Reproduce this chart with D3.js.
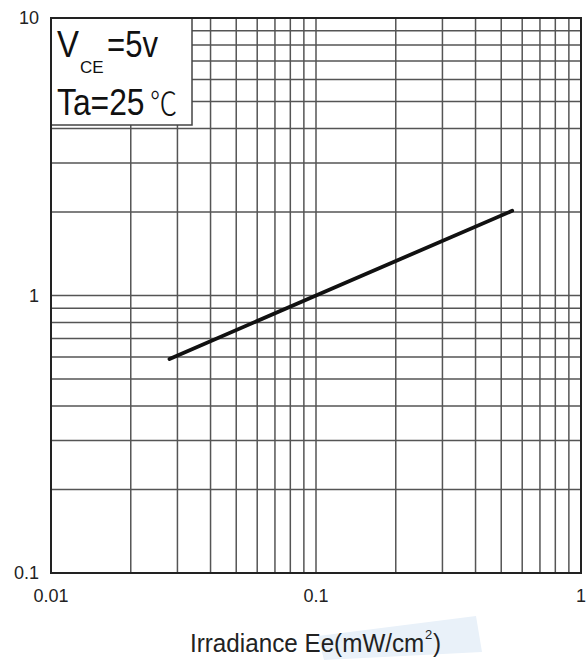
<!DOCTYPE html>
<html>
<head>
<meta charset="utf-8">
<script src="https://cdn.jsdelivr.net/npm/d3@7"></script>
<style>
  body { margin: 0; background: #fff; }
  svg { display: block; }
</style>
</head>
<body>
<div id="chart"></div>
<script>
// curve (log-log)
const irradiance = [0.028, 0.1, 0.55];
const current = [0.59, 1.0, 2.02];
const xTickValues = [0.01, 0.1, 1];
const yTickValues = [0.1, 1, 10];
const xTickLabels = ["0.01", "0.1", "1"];
const yTickLabels = ["0.1", "1", "10"];

const W = 588, H = 660;
const margin = { top: 18, right: 7, bottom: 87, left: 51 };
const width = W - margin.left - margin.right;
const height = H - margin.top - margin.bottom;

const svg = d3.select("#chart").append("svg")
  .attr("width", W)
  .attr("height", H);

// faint blue smudge behind the axis title
svg.append("polygon")
  .attr("points", "318,636 476,616 482,652 324,660")
  .attr("fill", "#e9f1f9");

const g = svg.append("g")
  .attr("transform", `translate(${margin.left},${margin.top})`);

const x = d3.scaleLog().domain([0.01, 1]).range([0, width]);
const y = d3.scaleLog().domain([0.1, 10]).range([height, 0]);

// grid
g.append("g")
  .selectAll("line")
  .data(x.ticks())
  .join("line")
  .attr("x1", d => x(d)).attr("x2", d => x(d))
  .attr("y1", 0).attr("y2", height)
  .attr("stroke", "#555")
  .attr("stroke-width", 1.5);

g.append("g")
  .selectAll("line")
  .data(y.ticks())
  .join("line")
  .attr("y1", d => y(d)).attr("y2", d => y(d))
  .attr("x1", 0).attr("x2", width)
  .attr("stroke", "#555")
  .attr("stroke-width", 1.5);

// curve
const line = d3.line()
  .x((d, i) => x(irradiance[i]))
  .y(d => y(d));

g.append("path")
  .datum(current)
  .attr("fill", "none")
  .attr("stroke", "#111")
  .attr("stroke-width", 3.8)
  .attr("stroke-linecap", "round")
  .attr("d", line);

// legend box covering grid
g.append("rect")
  .attr("x", 0).attr("y", 0)
  .attr("width", 141).attr("height", 107)
  .attr("fill", "#fff")
  .attr("stroke", "#444")
  .attr("stroke-width", 1.5);

// frame
g.append("rect")
  .attr("x", 0).attr("y", 0)
  .attr("width", width).attr("height", height)
  .attr("fill", "none")
  .attr("stroke", "#222")
  .attr("stroke-width", 2);

const font = "'Liberation Sans', Arial, sans-serif";

// condensed text helper (narrow face in the original)
function narrow(sel, px, py, sx, size, txt) {
  return sel.append("text")
    .attr("transform", `translate(${px},${py}) scale(${sx},1)`)
    .style("font-size", size + "px")
    .text(txt);
}

// legend text
const lg = svg.append("g")
  .attr("fill", "#111")
  .style("font-family", font);

narrow(lg, 57, 57, 0.89, 37, "V");
narrow(lg, 80, 73, 1.0, 17, "CE");
narrow(lg, 107, 57, 0.84, 37, "=5v");
narrow(lg, 57, 115, 0.86, 37, "Ta=25");
narrow(lg, 150, 115, 0.85, 32, "℃")
  .style("font-family", "'Noto Sans CJK SC', 'DejaVu Sans', sans-serif")
  .style("font-weight", 300);

// tick labels
svg.append("g")
  .selectAll("text")
  .data(xTickValues)
  .join("text")
  .attr("x", d => margin.left + x(d))
  .attr("y", margin.top + height + 29)
  .attr("text-anchor", "middle")
  .style("font-family", font)
  .style("font-size", "18px")
  .attr("fill", "#222")
  .text((d, i) => xTickLabels[i]);

svg.append("g")
  .selectAll("text")
  .data(yTickValues)
  .join("text")
  .attr("x", 39)
  .attr("y", d => margin.top + y(d) + 6)
  .attr("text-anchor", "end")
  .style("font-family", font)
  .style("font-size", "18px")
  .attr("fill", "#222")
  .text((d, i) => yTickLabels[i]);

// axis title, superscript kept as its own text
const tg = svg.append("g")
  .attr("fill", "#222")
  .style("font-family", font);
narrow(tg, 190, 652, 0.97, 25, "Irradiance Ee(mW/cm");
narrow(tg, 425, 639, 1.0, 13, "2");
narrow(tg, 433, 652, 0.97, 25, ")");
</script>
</body>
</html>
